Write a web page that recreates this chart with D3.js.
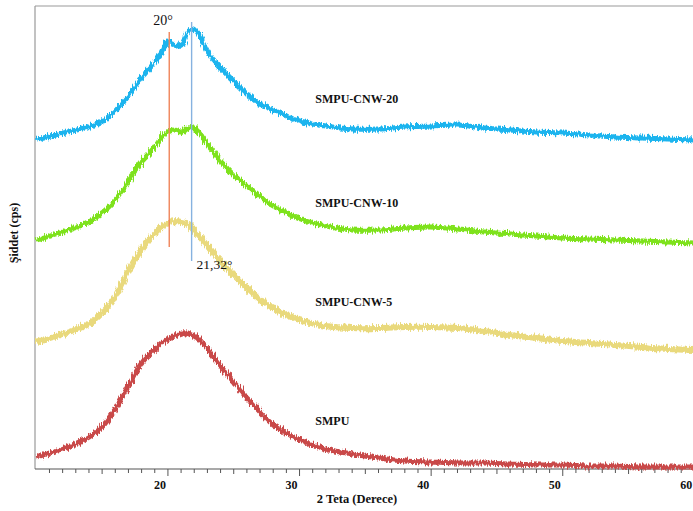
<!DOCTYPE html>
<html lang="tr">
<head>
  <meta charset="UTF-8" />
  <title>XRD - SMPU / CNW</title>
  <script src="https://cdn.jsdelivr.net/npm/d3@7"></script>
  <style>
    body { margin: 0; background: #fff; }
    svg { display: block; }
    text { font-family: "Liberation Serif", "Times New Roman", serif; fill: #111; }
    .lbl { font-weight: bold; font-size: 12px; }
    .tick-lbl { font-weight: bold; font-size: 12px; }
    .note { font-size: 14px; }
  </style>
</head>
<body>
<svg width="693" height="511"></svg>

<script>
  // 2 theta (degree) sample positions
  const theta = [10, 12, 14, 15, 16, 17, 18, 19, 19.5, 20, 20.5, 21, 21.5, 22, 22.5, 23, 24, 25, 26, 27,
                 28, 29, 30, 32, 34, 36, 38, 40, 42, 44, 46, 48, 50, 52, 54, 56, 58, 60];

  // intensities (arbitrary cps, curves already offset as in the figure)
  const smpuCnw20 = [329, 336, 342, 348, 358, 373, 391, 407, 417, 428, 424, 423, 436, 440, 431, 418, 401, 388, 375, 365,
                     359, 353, 348, 343, 340, 340, 342, 343, 344, 341, 339, 337, 336, 334, 332, 331, 330, 329];
  const smpuCnw10 = [229, 237, 247, 256, 269, 288, 307, 322, 331, 337, 339, 337, 341, 341, 334, 325, 308, 294, 283, 273,
                     263, 256, 250, 243, 239, 239, 241, 242, 240, 237, 235, 233, 231, 230, 229, 228, 227, 226];
  const smpuCnw5  = [127, 135, 145, 156, 173, 198, 220, 236, 242, 246, 248, 247, 245, 238, 231, 223, 208, 194, 181, 169,
                     161, 154, 149, 143, 141, 141, 142, 142, 141, 138, 134, 131, 128, 126, 124, 122, 120, 119];
  const smpu      = [12, 20, 32, 42, 60, 83, 106, 120, 126, 130, 133, 136, 136, 133, 128, 120, 103, 87, 71, 57,
                     44, 36, 29, 20, 15, 11, 8, 7, 6, 6, 5, 4, 4, 3, 3, 2, 2, 2];

  const seriesNames = ["SMPU-CNW-20", "SMPU-CNW-10", "SMPU-CNW-5", "SMPU"];
  const seriesValues = [smpuCnw20, smpuCnw10, smpuCnw5, smpu];
  const seriesColors = ["#1ab4ee", "#7ee21c", "#e9d97c", "#c94a4a"];
  // where each name sits: [2theta, intensity]
  const labelPos = [[31.2, 366], [31.2, 262], [31.2, 163], [31.2, 44]];

  // marked peak positions and their notes
  const peakTheta = [20.1, 21.8];
  const peakNotes = ["20°", "21,32°"];
  const peakColors = ["#f0845a", "#86b2e0"];

  const xTicks = [20, 30, 40, 50, 60];

  const svg = d3.select("svg");
  const margin = { left: 35, top: 6, bottom: 469, right: 697 };

  const x = d3.scaleLinear().domain([9.9, 60.2]).range([margin.left, margin.right]);
  const y = d3.scaleLinear().domain([0, 463]).range([margin.bottom, margin.top]);

  // noise look for the diffraction traces
  const defs = svg.append("defs");
  const f = defs.append("filter")
    .attr("id", "noisy")
    .attr("filterUnits", "userSpaceOnUse")
    .attr("x", 0).attr("y", 0).attr("width", 693).attr("height", 511);
  f.append("feTurbulence")
    .attr("type", "fractalNoise")
    .attr("baseFrequency", "1.6 0.1")
    .attr("numOctaves", 2)
    .attr("seed", 3)
    .attr("result", "n");
  f.append("feDisplacementMap")
    .attr("in", "SourceGraphic")
    .attr("in2", "n")
    .attr("scale", 7)
    .attr("xChannelSelector", "G")
    .attr("yChannelSelector", "R");

  // frame
  svg.append("line")
    .attr("x1", margin.left).attr("x2", 693)
    .attr("y1", margin.top).attr("y2", margin.top)
    .attr("stroke", "#999").attr("stroke-width", 1.2);
  svg.append("line")
    .attr("x1", margin.left).attr("x2", margin.left)
    .attr("y1", margin.top).attr("y2", margin.bottom)
    .attr("stroke", "#999").attr("stroke-width", 1.2);

  // x axis with minor ticks
  const axisG = svg.append("g").attr("transform", `translate(0,${margin.bottom})`);
  axisG.append("line")
    .attr("x1", margin.left).attr("x2", 693)
    .attr("stroke", "#555").attr("stroke-width", 1.2);
  const minor = d3.range(11, 61, 1);
  axisG.selectAll("line.mt")
    .data(minor)
    .join("line")
    .attr("class", "mt")
    .attr("x1", d => x(d)).attr("x2", d => x(d))
    .attr("y1", 0)
    .attr("y2", d => d % 10 === 0 ? 7 : (d % 5 === 0 ? 5 : 4))
    .attr("stroke", "#555").attr("stroke-width", 1);
  axisG.selectAll("text")
    .data(xTicks)
    .join("text")
    .attr("class", "tick-lbl")
    .attr("x", d => x(d) - 8)
    .attr("y", 20)
    .attr("text-anchor", "middle")
    .text(d => d);

  svg.append("text")
    .attr("class", "lbl")
    .attr("x", 357).attr("y", 503)
    .attr("text-anchor", "middle")
    .style("font-size", "12.5px")
    .text("2 Teta (Derece)");

  svg.append("text")
    .attr("class", "lbl")
    .attr("transform", "translate(18,233) rotate(-90)")
    .attr("text-anchor", "middle")
    .text("Şiddet (cps)");

  // traces
  const line = d3.line()
    .x((d, i) => x(theta[i]))
    .y(d => y(d))
    .curve(d3.curveCatmullRom);

  svg.append("g")
    .selectAll("path")
    .data(seriesValues)
    .join("path")
    .attr("d", d => line(d))
    .attr("fill", "none")
    .attr("stroke", (d, i) => seriesColors[i])
    .attr("stroke-width", (d, i) => i === 2 ? 6 : 5)
    .attr("stroke-linejoin", "round")
    .attr("filter", "url(#noisy)");

  // peak markers
  const markTop = [y(437), y(447)];
  const markBottom = [y(222), y(208)];
  svg.append("g")
    .selectAll("line")
    .data(peakTheta)
    .join("line")
    .attr("x1", d => x(d)).attr("x2", d => x(d))
    .attr("y1", (d, i) => markTop[i])
    .attr("y2", (d, i) => markBottom[i])
    .attr("stroke", (d, i) => peakColors[i])
    .attr("stroke-width", 1.4);

  svg.append("text").attr("class", "note")
    .attr("x", x(peakTheta[0]) - 16).attr("y", 25)
    .text(peakNotes[0]);
  svg.append("text").attr("class", "note")
    .attr("x", x(peakTheta[1]) + 5).attr("y", 269)
    .style("font-size", "13.5px")
    .text(peakNotes[1]);

  // series names
  svg.append("g")
    .selectAll("text")
    .data(seriesNames)
    .join("text")
    .attr("class", "lbl")
    .attr("x", (d, i) => x(labelPos[i][0]))
    .attr("y", (d, i) => y(labelPos[i][1]))
    .text(d => d);
</script>
</body>
</html>
